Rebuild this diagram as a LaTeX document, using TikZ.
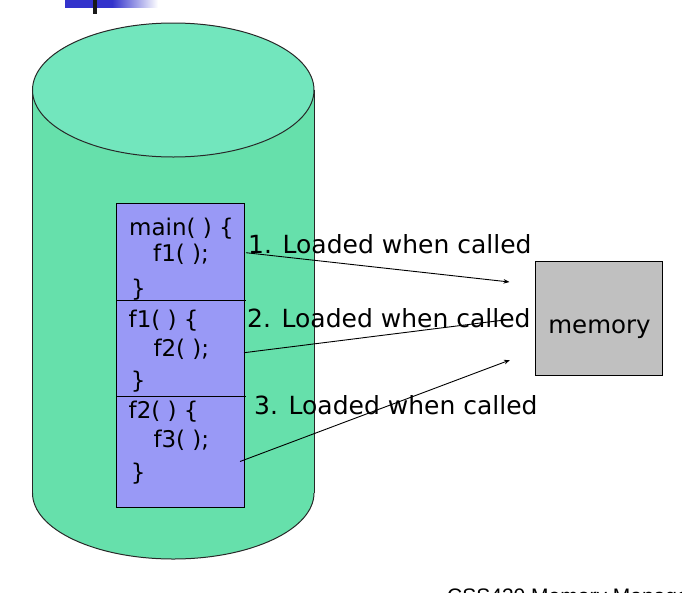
\documentclass[tikz,border=0pt]{standalone}
\usepackage{fontspec}
\setmainfont{DejaVu Sans}
\newfontfamily\footfont{Liberation Sans}
\usetikzlibrary{arrows.meta}
\definecolor{cyltop}{RGB}{114,230,189}
\definecolor{cylbody}{RGB}{102,224,171}
\definecolor{codefill}{RGB}{153,153,246}
\definecolor{memfill}{RGB}{192,192,192}
\definecolor{hdrblue}{RGB}{51,51,204}
\definecolor{edgegray}{RGB}{40,40,40}
\tikzset{
  codetext/.style={anchor=base west, inner sep=0pt, font=\fontsize{23}{27}\selectfont},
  labeltext/.style={anchor=base west, inner sep=0pt, font=\fontsize{25}{29}\selectfont},
  loadarrow/.style={draw=black, line width=0.9pt, -{Stealth[length=6pt,width=4.5pt]}},
  loadline/.style={draw=black, line width=0.9pt},
}
\begin{document}
\begin{tikzpicture}[x=1pt,y=-1pt]
\useasboundingbox (0,0) rectangle (682,592);
% header bar
\fill[hdrblue] (65,0) rectangle (112,7.7);
\shade[left color=hdrblue, right color=white] (112,0) rectangle (158,7.7);
\fill[black!90] (93,0) rectangle (97,14);
% cylinder body
\fill[cylbody] (32.5,90) rectangle (314,493);
\fill[cylbody] (173.25,493) ellipse[x radius=140.75, y radius=66];
\draw[edgegray, line width=1pt] (32.5,90) -- (32.5,493);
\draw[edgegray, line width=1pt] (314,90) -- (314,493);
\begin{scope}
  \clip (0,493) rectangle (682,600);
  \draw[edgegray, line width=1pt] (173.25,493) ellipse[x radius=140.75, y radius=66];
\end{scope}
\filldraw[fill=cyltop, draw=edgegray, line width=1pt] (173.25,90) ellipse[x radius=140.75, y radius=67];
% code box
\node[draw=black, line width=1pt, fill=codefill, minimum width=128pt, minimum height=304pt, inner sep=0pt, anchor=north west] (codebox) at (116.3,203.3) {};
\draw[line width=1pt] (codebox.west |- 0,300) -- (246,300);
\draw[line width=1pt] (codebox.west |- 0,396.7) -- (246,396.7);
% code text
\node[codetext] (m1) at (129,235) {main( ) \{};
\node[codetext] (m2) at (153,261.7) {f1( );};
\node[codetext] (m3) at (131,296) {\}};
\node[codetext] (a1) at (128.5,327.3) {f1( ) \{};
\node[codetext] (a2) at (153.3,356.7) {f2( );};
\node[codetext] (a3) at (130.7,388) {\}};
\node[codetext] (b1) at (128.5,418.3) {f2( ) \{};
\node[codetext] (b2) at (153.3,447.5) {f3( );};
\node[codetext] (b3) at (130.7,480) {\}};
% labels
\node[labeltext] (l1) at (248,253) {1. Loaded when called};
\node[labeltext] (l2) at (247,327) {2. Loaded when called};
\node[labeltext] (l3) at (254,414) {3. Loaded when called};
% memory
\node[draw=black, line width=1pt, fill=memfill, minimum width=127.7pt, minimum height=113.6pt, inner sep=0pt] (mem) at (599,318.5) {};
\node[anchor=base, inner sep=0pt, font=\fontsize{24.5}{29}\selectfont] (memtext) at (599.5,333) {memory};
% connectors
\coordinate (s1) at (246,252.7);
\coordinate (e1) at (509.5,282);
\coordinate (s2) at (244,352.7);
\coordinate (e2) at (510,319.3);
\coordinate (s3) at (240,461.5);
\coordinate (e3) at (510,360);
\draw[loadarrow] (s1) -- (e1);
\draw[loadline] (s2) -- (e2);
\draw[loadarrow] (s3) -- (e3);
% footer (cut off)
\begin{scope}
  \clip (0,0) rectangle (682,592);
  \node[anchor=base west, inner sep=0pt, font=\footfont\fontsize{21}{25}\selectfont] (foot) at (447,603.5) {CSS430 Memory Management};
\end{scope}
\end{tikzpicture}
\end{document}
